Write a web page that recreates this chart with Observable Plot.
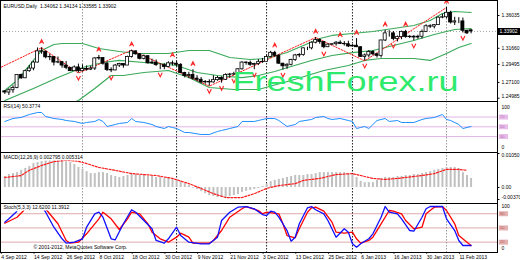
<!DOCTYPE html>
<html><head><meta charset="utf-8">
<script src="https://cdn.jsdelivr.net/npm/d3@7"></script>
<script src="https://cdn.jsdelivr.net/npm/@observablehq/plot@0.6"></script>
<style>
body{margin:0;background:#fff;}
#chart{position:relative;width:520px;height:260px;overflow:hidden;background:#fff;}
#chart svg{position:absolute;left:0;display:block;}
</style></head><body><div id="chart"></div>
<script>
// ---------- data ----------
const title = "EURUSD,Daily  1.34062 1.34134 1.33585 1.33902";
const opens = [1.2590,1.2575,1.2605,1.2635,1.2810,1.2765,1.2860,1.2895,1.2975,1.3125,
1.3120,1.3045,1.3050,1.2975,1.2980,1.2935,1.2905,1.2860,1.2910,1.2860,
1.2890,1.2880,1.2895,1.3030,1.3035,1.2960,1.2875,1.2870,1.2935,1.2955,
1.2935,1.3050,1.3125,1.3085,1.3025,1.3060,1.2965,1.2975,1.2940,1.2940,
1.2915,1.2965,1.2960,1.2945,1.2835,1.2795,1.2810,1.2760,1.2745,1.2710,
1.2715,1.2710,1.2740,1.2770,1.2745,1.2810,1.2815,1.2820,1.2885,1.2975,
1.2970,1.2945,1.2955,1.2980,1.2985,1.3050,1.3105,1.3065,1.2960,1.2925,
1.2945,1.3010,1.3070,1.3075,1.3165,1.3165,1.3240,1.3275,1.3250,1.3180,
1.3215,1.3220,1.3240,1.3225,1.3220,1.3190,1.3200,1.3180,1.3050,1.3070,
1.3115,1.3085,1.3065,1.3270,1.3365,1.3365,1.3290,1.3315,1.3385,1.3315,
1.3320,1.3310,1.3320,1.3385,1.3460,1.3455,1.3475,1.3575,1.3580,1.3640,
1.3510,1.3525,1.3525,1.3400,1.34062];
const highs = [1.2600,1.2625,1.2665,1.2815,1.2820,1.2875,1.2935,1.2995,1.3170,1.3173,
1.3125,1.3085,1.3050,1.3050,1.2990,1.2990,1.2910,1.2930,1.2955,1.2945,
1.2930,1.2925,1.3040,1.3070,1.3040,1.2985,1.2905,1.2950,1.2965,1.2960,
1.3060,1.3140,1.3130,1.3095,1.3075,1.3065,1.3020,1.3010,1.2960,1.2960,
1.2985,1.2995,1.2990,1.2960,1.2845,1.2845,1.2880,1.2800,1.2775,1.2735,
1.2745,1.2800,1.2790,1.2785,1.2825,1.2830,1.2845,1.2895,1.2985,1.2985,
1.2995,1.2965,1.3015,1.3030,1.3070,1.3125,1.3125,1.3080,1.2965,1.2960,
1.3020,1.3085,1.3095,1.3170,1.3180,1.3250,1.3310,1.3290,1.3255,1.3225,
1.3230,1.3255,1.3265,1.3255,1.3260,1.3215,1.3295,1.3185,1.3090,1.3135,
1.3135,1.3100,1.3275,1.3405,1.3400,1.3390,1.3330,1.3395,1.3405,1.3335,
1.3335,1.3340,1.3410,1.3480,1.3480,1.3480,1.3585,1.3620,1.3711,1.3660,
1.3580,1.3575,1.3570,1.3405,1.34134];
const lows = [1.2550,1.2535,1.2565,1.2625,1.2750,1.2760,1.2845,1.2865,1.2970,1.3085,
1.3025,1.3000,1.2930,1.2960,1.2900,1.2880,1.2855,1.2860,1.2835,1.2850,
1.2860,1.2870,1.2870,1.3005,1.2940,1.2855,1.2840,1.2865,1.2910,1.2900,
1.2935,1.3035,1.3075,1.3010,1.3010,1.2955,1.2950,1.2925,1.2880,1.2880,
1.2905,1.2930,1.2920,1.2830,1.2770,1.2760,1.2740,1.2720,1.2690,1.2685,
1.2660,1.2700,1.2725,1.2700,1.2735,1.2765,1.2800,1.2815,1.2875,1.2940,
1.2925,1.2880,1.2935,1.2965,1.2985,1.3040,1.3045,1.2950,1.2875,1.2885,
1.2930,1.2990,1.3040,1.3060,1.3135,1.3145,1.3225,1.3220,1.3160,1.3175,
1.3200,1.3195,1.3215,1.3195,1.3175,1.3185,1.3175,1.3045,1.2998,1.3040,
1.3065,1.3035,1.3035,1.3255,1.3315,1.3265,1.3250,1.3280,1.3300,1.3295,
1.3265,1.3285,1.3290,1.3375,1.3430,1.3425,1.3470,1.3560,1.3560,1.3490,
1.3470,1.3495,1.3370,1.3350,1.33585];
const closes = [1.2575,1.2605,1.2635,1.2810,1.2765,1.2860,1.2895,1.2975,1.3125,1.3120,
1.3045,1.3050,1.2975,1.2980,1.2935,1.2905,1.2860,1.2910,1.2860,1.2890,
1.2880,1.2895,1.3030,1.3035,1.2960,1.2875,1.2870,1.2935,1.2955,1.2935,
1.3050,1.3125,1.3085,1.3025,1.3060,1.2965,1.2975,1.2940,1.2940,1.2915,
1.2965,1.2960,1.2945,1.2835,1.2795,1.2810,1.2760,1.2745,1.2710,1.2715,
1.2710,1.2740,1.2770,1.2745,1.2810,1.2815,1.2820,1.2885,1.2975,1.2970,
1.2945,1.2955,1.2980,1.2985,1.3050,1.3105,1.3065,1.2960,1.2925,1.2945,
1.3010,1.3070,1.3075,1.3165,1.3165,1.3240,1.3275,1.3250,1.3180,1.3215,
1.3220,1.3240,1.3225,1.3220,1.3190,1.3200,1.3180,1.3050,1.3070,1.3115,
1.3085,1.3065,1.3270,1.3365,1.3365,1.3290,1.3315,1.3385,1.3315,1.3320,
1.3310,1.3320,1.3385,1.3460,1.3455,1.3475,1.3575,1.3580,1.3640,1.3510,
1.3525,1.3525,1.3400,1.3365,1.33902];

const bbUpper = [[0,1.2602],[3,1.2735],[5,1.2869],[7,1.3003],[9,1.3136],[12,1.3216],[14,1.3230],[19,1.3230],[23,1.3163],[28,1.3123],[32,1.3096],[36,1.3096],[40,1.3096],[45,1.3136],[50,1.3136],[55,1.3043],[60,1.3016],[64,1.3029],[69,1.3109],[73,1.3203],[77,1.3296],[80,1.3337],[85,1.3363],[90,1.3390],[95,1.3430],[100,1.3470],[104,1.3537],[107,1.3630],[110,1.3657],[114,1.3644]];
const bbMiddle = [[0,1.2468],[7,1.2629],[13,1.2775],[19,1.2909],[24,1.2976],[28,1.3003],[34,1.2976],[38,1.2962],[42,1.2936],[47,1.2842],[52,1.2802],[58,1.2775],[62,1.2802],[66,1.2856],[70,1.2922],[75,1.3003],[80,1.3069],[85,1.3109],[90,1.3136],[95,1.3203],[100,1.3270],[105,1.3350],[110,1.3417],[114,1.3430]];
const bbLower = [[0,1.2308],[10,1.2308],[15,1.2388],[18,1.2468],[22,1.2629],[26,1.2802],[29,1.2802],[34,1.2842],[40,1.2869],[45,1.2775],[50,1.2642],[56,1.2615],[62,1.2615],[70,1.2735],[78,1.2869],[84,1.2936],[88,1.3003],[92,1.3029],[100,1.3029],[104,1.3003],[108,1.3096],[111,1.3176],[114,1.3230]];
const zigzag = [[-20,1.2411],[9,1.3173],[18,1.2835],[31,1.3140],[50,1.2660],[76,1.3310],[88,1.2998],[108,1.3711]];
const fractalUp = [9,23,31,41,46,66,76,82,86,93,98,108];
const fractalDown = [18,26,38,50,53,56,61,68,78,88,95,100,112];
const priceTicks = [1.36035,1.31660,1.29495,1.27100];
const priceBottomTick = 1.24985;

const rsiLabel = "RSI(14) 50.3774";
const rsi = [[0,60.9],[2,67],[4,69.1],[6,75.2],[8,79.3],[9,79.3],[10,71.1],[12,67],[14,65],[15,62.9],[17,60.9],[19,56.8],[20,58.8],[22,60.9],[23,65],[24,60.9],[25,50.6],[27,54.7],[28,56.8],[30,58.8],[31,67],[32,60.9],[34,58.8],[36,54.7],[37,50.6],[39,46.5],[40,50.6],[41,48.6],[42,46.5],[44,38.3],[45,38.3],[48,34.2],[50,34.2],[52,40.4],[53,42.4],[55,46.5],[57,50.6],[58,60.9],[61,60.9],[62,62.9],[64,67],[66,67],[67,62.9],[69,50.6],[71,54.7],[72,60.9],[75,65],[76,69.1],[78,71.1],[79,67],[80,65],[82,67],[84,62.9],[85,60.9],[86,46.5],[87,48.6],[88,50.6],[89,46.5],[90,54.7],[91,62.9],[93,67],[94,60.9],[96,62.9],[97,58.8],[98,58.8],[100,58.8],[102,65],[103,67],[105,69.1],[107,75.2],[108,65],[109,62.9],[111,54.7],[112,46.5],[113,48.6],[114,50.6]];
const rsiLevels = [70,50,30];

const macdLabel = "MACD(12,26,9) 0.002795 0.005314";
const macdHist = [0.0034,0.0040,0.0043,0.0046,0.0053,0.0059,0.0065,0.0074,0.0077,0.0080,
0.0083,0.0087,0.0087,0.0087,0.0087,0.0080,0.0077,0.0071,0.0062,0.0056,
0.0049,0.0043,0.0043,0.0046,0.0046,0.0043,0.0037,0.0034,0.0031,0.0034,
0.0037,0.0040,0.0040,0.0037,0.0037,0.0034,0.0034,0.0031,0.0031,0.0028,
0.0028,0.0028,0.0025,0.0019,0.0012,0.0006,-0.0002,-0.0006,-0.0012,-0.0019,
-0.0025,-0.0028,-0.0031,-0.0031,-0.0031,-0.0028,-0.0025,-0.0022,-0.0015,-0.0012,
-0.0009,-0.0006,-0.0003,0.0003,0.0010,0.0018,0.0022,0.0025,0.0028,0.0031,
0.0034,0.0037,0.0037,0.0037,0.0040,0.0040,0.0043,0.0046,0.0046,0.0046,
0.0046,0.0046,0.0046,0.0046,0.0043,0.0040,0.0031,0.0019,0.0015,0.0015,
0.0015,0.0022,0.0028,0.0031,0.0031,0.0031,0.0034,0.0034,0.0037,0.0037,
0.0040,0.0040,0.0043,0.0046,0.0049,0.0053,0.0056,0.0059,0.0062,0.0062,
0.0062,0.0059,0.0046,0.0037,0.0028];
const macdSignal = [[0,0.0031],[4,0.0037],[6,0.0053],[9,0.0068],[12,0.0080],[15,0.0084],[18,0.0081],[20,0.0074],[23,0.0062],[27,0.0053],[31,0.0043],[37,0.0037],[41,0.0028],[45,0.0012],[48,-0.0003],[51,-0.0019],[54,-0.0031],[58,-0.0031],[61,-0.0019],[64,-0.0003],[67,0.0006],[71,0.0012],[73,0.0022],[77,0.0028],[81,0.0040],[85,0.0043],[87,0.0037],[90,0.0028],[93,0.0025],[96,0.0028],[98,0.0031],[102,0.0037],[105,0.0043],[108,0.0056],[111,0.0056],[113,0.0053]];
const macdTop = 0.0105, macdZero = 0, macdBottom = -0.0037;
const macdTickText = ["0.01050","0.00","-0.00370"];

const stochLabel = "Stoch(5,3,3) 12.6200 11.3912";
const stochMain = [[0,62.2],[1,69.3],[3,85.4],[5,96],[7,97],[9,95],[10,83.3],[12,51.6],[14,27.1],[15,17.8],[17,19.9],[19,27.1],[20,51.6],[22,79.9],[23,83.3],[24,72.7],[26,27.1],[27,25],[29,58.8],[31,88.4],[32,83.3],[34,65.8],[36,48.2],[37,23.5],[39,17.8],[40,27.1],[42,51.6],[43,34],[45,19.9],[48,16.5],[50,16.5],[52,30.5],[53,65.8],[55,83.3],[57,93.9],[59,95.3],[61,90.5],[63,78.4],[64,76.3],[65,85.4],[66,83.3],[67,72.7],[69,44.6],[70,22],[71,30.5],[72,58.8],[74,92.6],[75,95.3],[76,88.4],[78,79.9],[79,65.8],[81,30.5],[83,48.2],[84,41],[85,16.5],[86,9.3],[87,16.5],[89,27.1],[90,37.6],[92,72.7],[93,95.3],[94,83.3],[96,79.9],[97,69.3],[99,44.6],[100,43.1],[102,72.7],[103,90.5],[104,95.3],[107,95.3],[108,69.3],[110,44.6],[111,23.5],[112,12.9],[114,12.9]];
const stochSignal = [[0,60],[3,72.7],[5,90],[7,95],[9,96],[10,90],[13,58.8],[15,23.5],[16,17.8],[18,19.9],[20,37.6],[23,69.3],[24,83.3],[26,69.3],[28,46.7],[30,69.3],[31,83.3],[33,79.9],[35,58.8],[36,41],[38,27.1],[40,19.9],[42,30.5],[43,38.9],[45,30.5],[46,17.8],[50,17.8],[51,23.5],[53,44.6],[55,72.7],[58,90.5],[59,95.3],[62,86.9],[63,79.9],[64,83.3],[67,79.9],[68,58.8],[69,34],[71,29.2],[72,48.2],[74,83.3],[75,92.6],[76,93.9],[78,85.4],[80,62.2],[81,41],[83,38.9],[85,41],[86,27.1],[87,17.8],[89,23.5],[90,30.5],[92,58.8],[94,86.9],[95,85.4],[97,79.9],[98,65.8],[100,48.2],[102,51.6],[103,79.9],[105,93.9],[107,95.3],[108,86.9],[110,58.8],[111,34],[113,19.9],[114,12.9]];
const stochLevels = [80,50,20];

const monthStartIdx = [19,42,64,85,108];
const dateIdx = [0,8,16,24,32,40,48,56,64,72,80,88,96,104,112];
const dateLabels = ["4 Sep 2012","14 Sep 2012","26 Sep 2012","8 Oct 2012","18 Oct 2012","30 Oct 2012","9 Nov 2012","21 Nov 2012","3 Dec 2012","13 Dec 2012","25 Dec 2012","6 Jan 2013","16 Jan 2013","30 Jan 2013","11 Feb 2013"];
const watermark = "FreshForex.ru";
const copyright = "\u00a9 2001-2012, MetaQuotes Software Corp.";

// ---------- layout helpers ----------
const W = 520;
const XDOM = [-1.051, 120.46];
const XR = XDOM[1];
const FONT = '"Liberation Sans", Arial, sans-serif';
const bars = closes.map((c, i) => ({i, o: opens[i], h: highs[i], l: lows[i], c}));
const chart = document.getElementById("chart");

// fractal arrow glyphs as symbols (caret up / caret down)
const caretUp = {draw(ctx, size) { const r = Math.sqrt(size) / 2; ctx.moveTo(-r, r); ctx.lineTo(0, -r); ctx.lineTo(r, r); ctx.moveTo(-r * 0.5, r * 0.2); ctx.lineTo(r * 0.5, r * 0.2); }};
const caretDown = {draw(ctx, size) { const r = Math.sqrt(size) / 2; ctx.moveTo(-r, -r); ctx.lineTo(0, r); ctx.lineTo(r, -r); }};

function panel(top, height, yDomain, marks, mb = 0) {
  const svg = Plot.plot({
    width: W, height, marginLeft: 0, marginRight: 23, marginTop: 0, marginBottom: mb,
    x: {domain: XDOM, axis: null}, y: {domain: yDomain, axis: null},
    style: {fontFamily: FONT, fontSize: "5px", background: "transparent", overflow: "visible"},
    marks
  });
  svg.style.top = top + "px";
  chart.appendChild(svg);
  return svg;
}
function separators() {
  return [
    Plot.ruleX(monthStartIdx.filter((d, k) => k > 0 && k < monthStartIdx.length - 1), {x: d => d, stroke: "#222", strokeDasharray: "1.5,1.5", strokeWidth: 1}),
    Plot.ruleX(monthStartIdx.filter((d, k) => k === 0 || k === monthStartIdx.length - 1), {x: d => d, stroke: "#9a9a9a", strokeDasharray: "1.5,1.5", strokeWidth: 1})
  ];
}
function label(txt, dy, halo) {
  return Plot.text([txt], {frameAnchor: "top-left", dx: 3, dy, text: d => d, textAnchor: "start", lineAnchor: "middle", fontSize: 5, fill: "#000",
    ...(halo ? {stroke: "#fff", strokeWidth: 3} : {})});
}
// right-hand axis label(s) at given values, with a constant vertical nudge
function axisText(values, texts, dy = 0, dx = 4) {
  return Plot.text(values, {y: d => d, frameAnchor: "right", dx, dy, textAnchor: "start", text: (d, i) => texts[i], fontSize: 5, fill: "#000"});
}
function levelBoxes(levels, boxColor, textColor) {
  return [
    Plot.ruleY(levels, {y: d => d, x1: XR + 0.45, x2: XR + 2.7, stroke: boxColor, strokeWidth: 5}),
    Plot.text(levels, {y: d => d, frameAnchor: "right", dx: 2.6, textAnchor: "start", text: d => String(d), fontSize: 4, fill: textColor})
  ];
}

// ---------- main price panel (global y 0..101) ----------
const last = closes[closes.length - 1];
const mainSvg = panel(0, 101, [1.24548, 1.380416], [
  Plot.ruleY([last], {y: d => d, stroke: "#a8a8a8", strokeDasharray: "1,2"}),
  ...separators(),
  Plot.line(bbUpper, {x: d => d[0], y: d => d[1], stroke: "#3aaa5a", strokeWidth: 1.2, clip: true}),
  Plot.line(bbMiddle, {x: d => d[0], y: d => d[1], stroke: "#3aaa5a", strokeWidth: 1.2, clip: true}),
  Plot.line(bbLower, {x: d => d[0], y: d => d[1], stroke: "#3aaa5a", strokeWidth: 1.2, clip: true}),
  Plot.line(zigzag, {x: d => d[0], y: d => d[1], stroke: "#ff1a1a", strokeWidth: 1, strokeDasharray: "1.5,1.5", clip: true}),
  Plot.ruleX(bars, {x: "i", y1: "l", y2: "h", stroke: "#000", strokeWidth: 1}),
  Plot.rect(bars, {x1: d => d.i - 0.37, x2: d => d.i + 0.37, y1: "o", y2: "c", fill: d => d.c >= d.o ? "#fff" : "#000", stroke: "#000", strokeWidth: 0.8}),
  Plot.dot(fractalUp, {x: d => d, y: d => highs[d], symbol: caretUp, r: 2.3, dy: -6, stroke: "#ff2020", strokeWidth: 1.1, fill: "none"}),
  Plot.dot(fractalDown, {x: d => d, y: d => lows[d], symbol: caretDown, r: 2.3, dy: 5, stroke: "#ff2020", strokeWidth: 1.1, fill: "none"}),
  Plot.text([watermark], {frameAnchor: "top-left", dx: 232, dy: 82, text: d => d, textAnchor: "start", lineAnchor: "middle", fontSize: 28, fill: "#2eea6c", fontFamily: FONT}),
  label(title, 6),
  Plot.ruleY([...priceTicks, priceBottomTick], {y: d => d, x1: XR, x2: XR + 0.6, stroke: "#000"}),
  axisText(priceTicks, priceTicks.map(d => d.toFixed(5))),
  axisText([priceBottomTick], [priceBottomTick.toFixed(5)], -1.5),
  Plot.ruleY([last], {y: d => d, x1: XR, x2: XR + 5.8, stroke: "#000", strokeWidth: 7}),
  Plot.text([last], {y: d => d, frameAnchor: "right", dx: 2, textAnchor: "start", text: d => d.toFixed(5), fontSize: 5, fill: "#fff"}),
  Plot.frame({stroke: "#000"})
]);
d3.select(mainSvg).selectAll("text").filter(function () { return this.textContent === watermark; })
  .attr("textLength", 226).attr("lengthAdjust", "spacingAndGlyphs");

// ---------- RSI panel (global y 101..152) ----------
panel(101, 51, [-2.69, 101.87], [
  Plot.ruleY(rsiLevels, {y: d => d, stroke: "#e4b6e6", strokeWidth: 1}),
  ...separators(),
  Plot.line(rsi, {x: d => d[0], y: d => d[1], stroke: "#1e8fff", strokeWidth: 1, clip: true}),
  label(rsiLabel, 5),
  axisText([100], ["100"], 4.5),
  axisText([0], ["0"], -4),
  ...levelBoxes(rsiLevels, "#e8bce8", "#b070b8"),
  Plot.frame({stroke: "#000"})
]);

// ---------- MACD panel (global y 152..203) ----------
panel(152, 51, [-0.004944, 0.010815], [
  ...separators(),
  Plot.ruleX(macdHist, {x: (d, i) => i, y1: 0, y2: d => d, stroke: "#c0c0c0", strokeWidth: 2}),
  Plot.line(macdSignal, {x: d => d[0], y: d => d[1], stroke: "#ff1a1a", strokeWidth: 1.2, strokeDasharray: "2,1.5", clip: true}),
  label(macdLabel, 4.5, true),
  Plot.ruleY([macdTop, macdZero, macdBottom], {y: d => d, x1: XR, x2: XR + 0.6, stroke: "#000"}),
  axisText([macdTop], [macdTickText[0]], 1.5),
  axisText([macdZero], [macdTickText[1]]),
  axisText([macdBottom], [macdTickText[2]], -2),
  Plot.frame({stroke: "#000"})
]);

// ---------- Stochastic panel (global y 203..252) + date axis ----------
panel(203, 57, [-1.90, 101.69], [
  Plot.ruleY(stochLevels, {y: d => d, stroke: "#dcaaaa", strokeWidth: 1}),
  ...separators(),
  Plot.line(stochSignal, {x: d => d[0], y: d => d[1], stroke: "#ff0000", strokeWidth: 1.3, clip: true}),
  Plot.line(stochMain, {x: d => d[0], y: d => d[1], stroke: "#1010ff", strokeWidth: 1.3, clip: true}),
  label(stochLabel, 4, true),
  Plot.text([copyright], {frameAnchor: "bottom-left", dx: 33, dy: -5, text: d => d, textAnchor: "start", lineAnchor: "middle", fontSize: 5, fill: "#000"}),
  axisText([100], ["100"], 2.5),
  axisText([0], ["0"], -3.5),
  ...levelBoxes(stochLevels, "#e4b0b0", "#b06060"),
  Plot.ruleX(dateIdx, {x: d => d - 0.85, y1: -1.9, y2: -5.5, stroke: "#000"}),
  Plot.text(dateIdx, {x: d => d, frameAnchor: "bottom", dx: -3.5, dy: 4.5, textAnchor: "start", lineAnchor: "middle", text: (d, i) => dateLabels[i], fontSize: 5, fill: "#000"}),
  Plot.frame({stroke: "#000"})
], 8);
</script></body></html>
